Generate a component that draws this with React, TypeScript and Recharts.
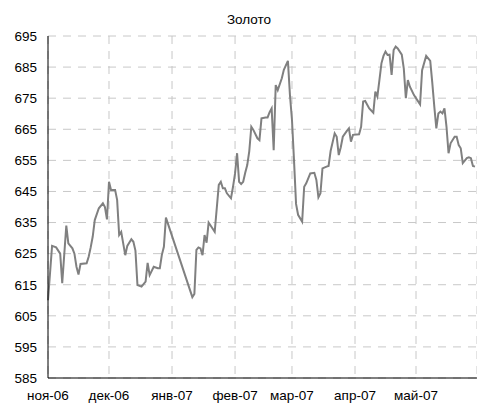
import React from 'react';
import { LineChart, Line, XAxis, YAxis, CartesianGrid } from 'recharts';

// days since 1 Nov 2006
const days: number[] = [
  0, 2, 4, 6, 7, 9, 10, 12, 13, 14, 15, 16, 19, 20, 21, 22, 23, 25, 27, 28,
  29, 30, 31, 33, 34, 35, 36, 38, 39, 41, 42, 43, 44, 46, 48, 49, 50, 52, 54, 55,
  56, 57, 58, 71, 72, 73, 74, 75, 76, 77, 78, 79, 82, 84, 85, 86, 87, 88, 90, 91, 92,
  93, 94, 95, 96, 97, 98, 99, 100, 101, 103, 104, 105, 107, 108, 109, 110, 111, 112, 113, 115,
  116, 118, 119, 120, 121, 122, 123, 125, 126, 127, 129, 131, 132, 133, 134, 135, 137, 138, 139, 141,
  142, 143, 144, 145, 147, 148, 149, 150, 153, 154, 155, 156, 158, 160, 161, 162, 163, 164, 165, 166,
  167, 168, 169, 170, 171, 172, 174, 175, 176, 177, 178, 180, 183, 184, 186, 188, 189, 190, 191, 192,
  193, 194, 195, 196, 197, 198, 200, 201, 202, 203, 204, 206, 207, 208, 209, 210,
];
const gold: number[] = [
  610, 627.5, 627, 625, 615.5, 634, 628.3, 626.7, 625, 620.8, 618.3, 621.7, 621.9, 624, 627, 630.5, 635.8, 639.6, 641.2, 640,
  636, 648.1, 645.5, 645.5, 642.3, 631, 632, 624.5, 627.5, 629.6, 628.8, 626, 614.9, 614.4, 616, 622, 618.1, 620.8, 620.3, 620.3,
  624.6, 627.2, 636.6, 611, 612, 626.2, 627, 626.7, 624.5, 631, 628.5, 635, 632, 647.1, 648.1, 646, 646, 644.4, 642.8, 646.5, 650.8,
  657.3, 648.1, 647.4, 648.1, 651, 653.5, 658, 665.8, 664.8, 662.1, 661.5, 668.5, 668.8, 668.8, 670.5, 671.7, 658.3, 679.2, 677.6, 681.4,
  684.1, 687, 676, 668, 655, 641, 637.5, 635.3, 646.5, 647.6, 650.8, 651, 648.7, 643.1, 644.4, 652.4, 653, 653.2, 658, 663.7,
  662.6, 656.7, 659.2, 662.6, 664.5, 665.3, 661, 663.2, 663.4, 665.8, 673.9, 674.1, 671.7, 670.3, 677.1, 675.5, 680.8, 686.2, 688.6, 690,
  688.9, 689, 682.5, 690.5, 691.6, 691, 689, 684.5, 675, 680.8, 678.7, 676, 673, 684, 688.6, 687, 680, 672.3, 665.3, 670.1,
  670.7, 670.1, 671.7, 665.8, 657.3, 660.5, 662.6, 662.6, 659.9, 658.9, 654.1, 655.7, 656, 655.7, 653.2, 653,
];

const monthTicks: number[] = [0, 30, 61, 92, 120, 151, 181];
const monthLabels: string[] = ['ноя-06', 'дек-06', 'янв-07', 'фев-07', 'мар-07', 'апр-07', 'май-07'];
const yTicks: number[] = [585, 595, 605, 615, 625, 635, 645, 655, 665, 675, 685, 695];
const title = 'Золото';

const data = days.map((d, i) => ({ day: d, value: gold[i] }));

const fontFamily = '"Liberation Sans", Arial, sans-serif';

export default function App() {
  return (
    <div style={{ position: 'absolute', left: 0, top: 0, width: 477, height: 403, background: '#fff' }}>
      <div
        style={{
          position: 'absolute',
          left: 0,
          width: 498,
          top: 12,
          textAlign: 'center',
          fontFamily,
          fontSize: 13.5,
          color: '#000',
        }}
      >
        {title}
      </div>
      <LineChart
        width={477}
        height={403}
        data={data}
        margin={{ top: 36, right: 0, bottom: 0, left: 0 }}
      >
        <CartesianGrid stroke="#c8c8c8" strokeDasharray="8 7" />
        <XAxis
          dataKey="day"
          type="number"
          domain={[0, 211]}
          ticks={monthTicks}
          tickFormatter={(v: number) => monthLabels[monthTicks.indexOf(v)] ?? ''}
          tickLine={false}
          tickSize={0}
          tickMargin={12}
          height={25}
          stroke="#000"
          tick={{ fill: '#000', fontSize: 13.5, fontFamily }}
          interval={0}
        />
        <YAxis
          type="number"
          domain={[585, 695]}
          ticks={yTicks}
          tickLine={false}
          tickSize={0}
          tickMargin={11}
          width={48}
          stroke="#000"
          tick={{ fill: '#000', fontSize: 13.5, fontFamily }}
          interval={0}
        />
        <Line
          type="linear"
          dataKey="value"
          stroke="#808080"
          strokeWidth={2}
          dot={false}
          isAnimationActive={false}
        />
      </LineChart>
    </div>
  );
}
